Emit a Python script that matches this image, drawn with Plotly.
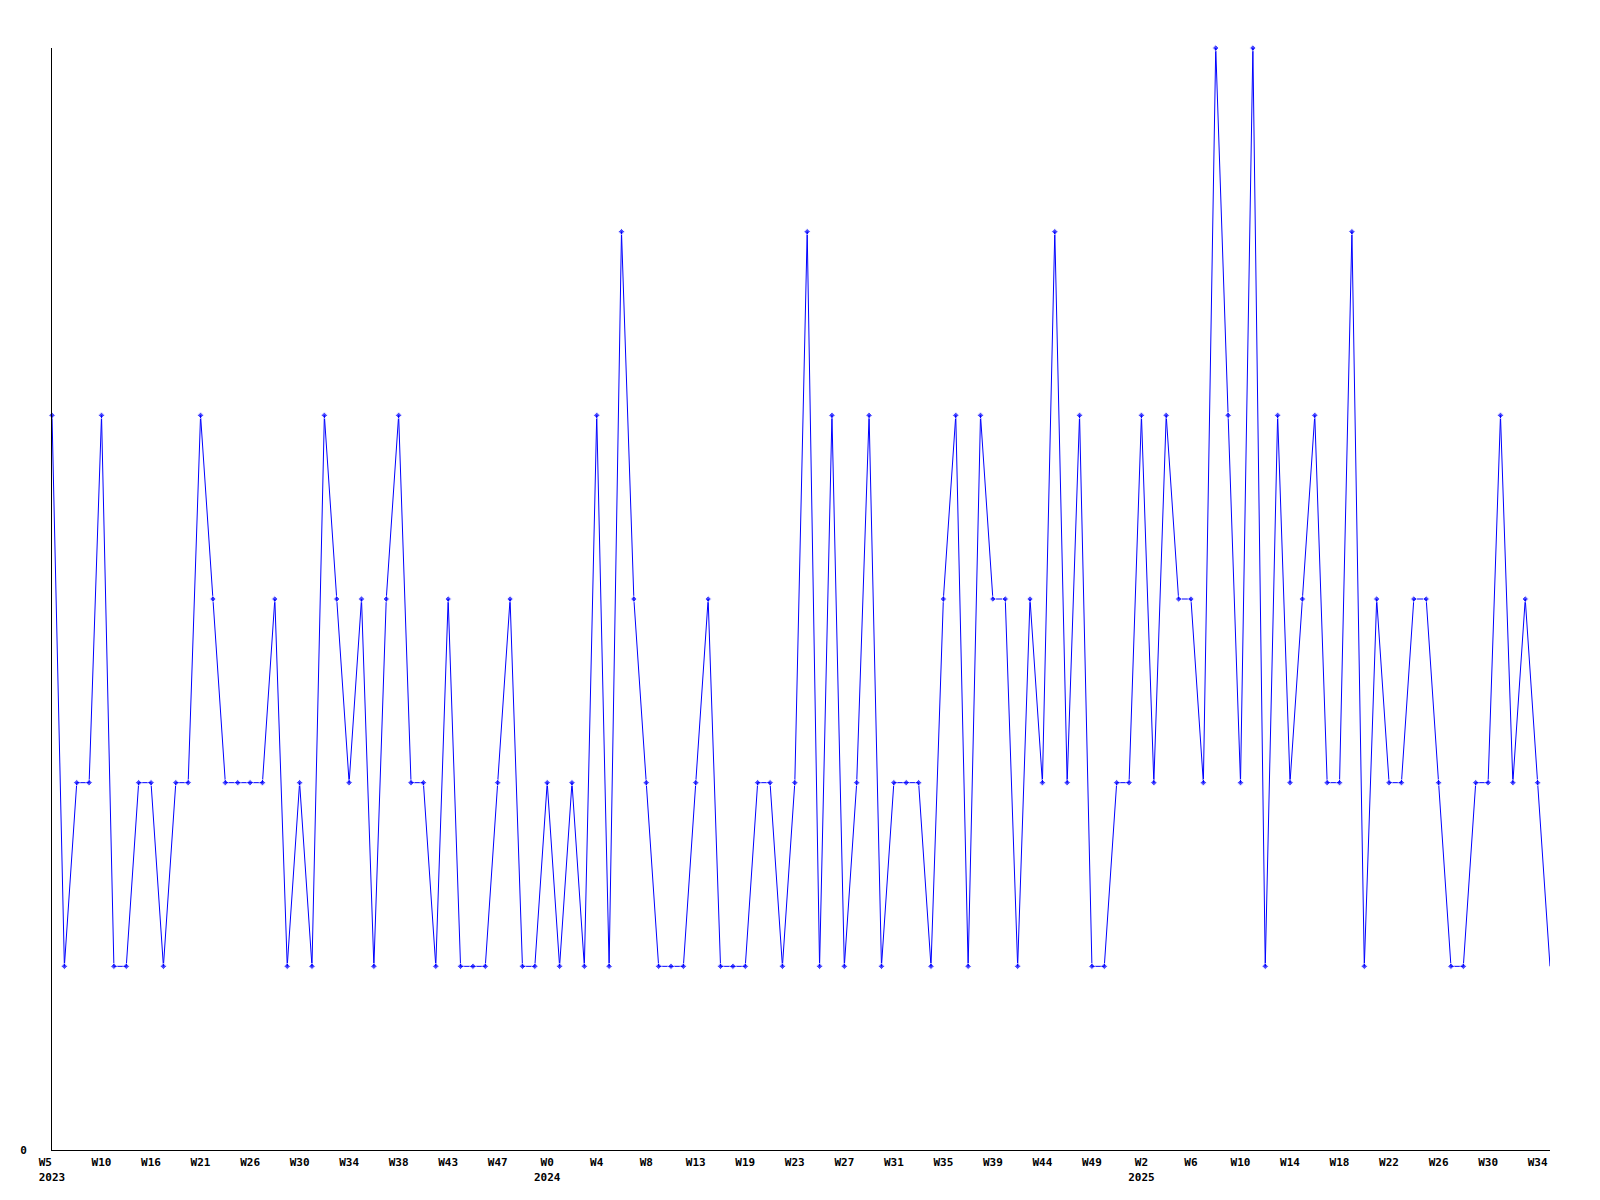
import plotly.graph_objects as go

# Weekly values (one per week, from 2023 W5 onwards)
values = [
    4, 1, 2, 2, 4, 1, 1, 2, 2, 1, 2, 2, 4, 3, 2, 2, 2, 2, 3, 1,
    2, 1, 4, 3, 2, 3, 1, 3, 4, 2, 2, 1, 3, 1, 1, 1, 2, 3, 1, 1,
    2, 1, 2, 1, 4, 1, 5, 3, 2, 1, 1, 1, 2, 3, 1, 1, 1, 2, 2, 1,
    2, 5, 1, 4, 1, 2, 4, 1, 2, 2, 2, 1, 3, 4, 1, 4, 3, 3, 1, 3,
    2, 5, 2, 4, 1, 1, 2, 2, 4, 2, 4, 3, 3, 2, 6, 4, 2, 6, 1, 4,
    2, 3, 4, 2, 2, 5, 1, 3, 2, 2, 3, 3, 2, 1, 1, 2, 2, 4, 2, 3,
    2, 1,
]

# Tick labels, one every 4 weeks
tick_labels = [
    "W5\u00a0\u00a0<br>2023", "W10", "W16", "W21", "W26", "W30", "W34", "W38", "W43", "W47",
    "W0<br>2024", "W4", "W8", "W13", "W19", "W23", "W27", "W31", "W35", "W39",
    "W44", "W49", "W2<br>2025", "W6", "W10", "W14", "W18", "W22", "W26", "W30", "W34",
]

x = list(range(len(values)))
tick_vals = x[::4][:len(tick_labels)]
marker_sizes = [5] * (len(values) - 1) + [0]

fig = go.Figure()
fig.add_trace(go.Scatter(
    x=x, y=values, mode="lines+markers",
    line=dict(color="#0000ff", width=1),
    marker=dict(symbol="diamond", size=marker_sizes, color="#0000ff"),
    cliponaxis=False,
    showlegend=False,
))

tick_font = dict(family="DejaVu Sans Mono", size=11, color="black", weight="bold")

fig.update_layout(
    width=1600, height=1200,
    paper_bgcolor="white", plot_bgcolor="white",
    margin=dict(l=42, r=58, t=40, b=58),
    font=dict(family="DejaVu Sans Mono", size=11, color="black"),
    xaxis=dict(
        range=[0, len(values) - 1],
        showgrid=False, zeroline=False,
        showline=True, linecolor="black", linewidth=1,
        tickvals=tick_vals, ticktext=tick_labels,
        ticks="", tickfont=tick_font,
        ticklabelstandoff=2,
    ),
    yaxis=dict(
        range=[0, 6],
        showgrid=False, zeroline=False,
        showline=True, linecolor="black", linewidth=1,
        tickvals=[0], ticktext=["0"],
        ticks="", tickfont=tick_font,
        ticklabelstandoff=22,
    ),
)

fig.write_html("out.html")
